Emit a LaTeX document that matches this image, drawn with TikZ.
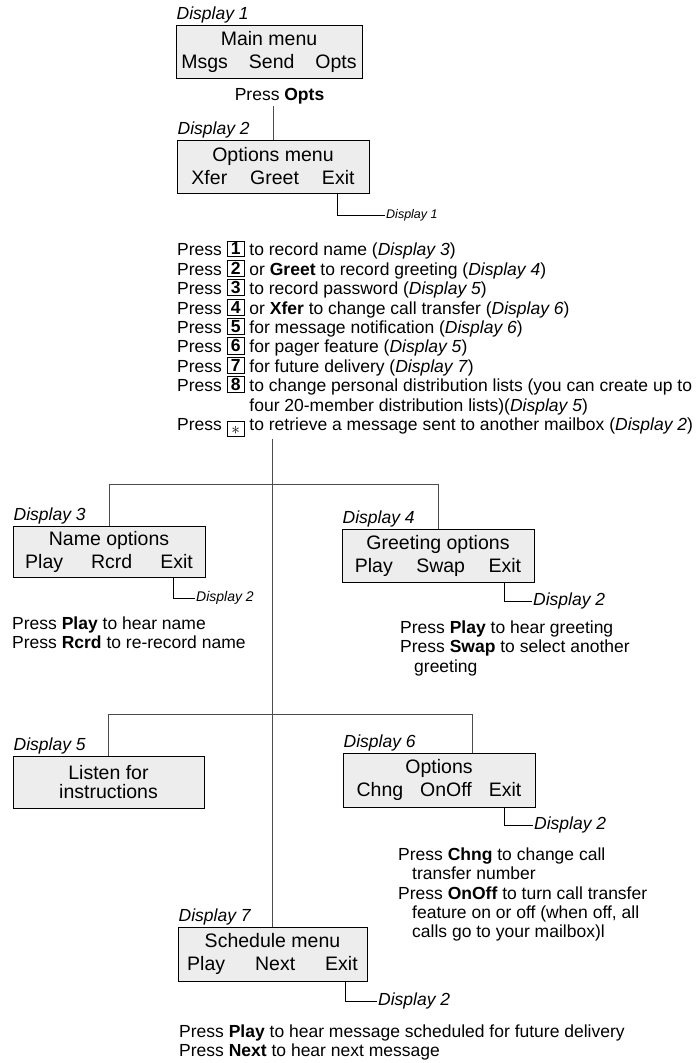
\documentclass[tikz,border=0pt]{standalone}
\usepackage{fontspec}
\setmainfont{Liberation Sans}
\usetikzlibrary{positioning}

\newcommand\boxfont{\fontsize{19.5}{23}\selectfont}
\newcommand\notefont{\fontsize{17.5}{19.4}\selectfont}
\newcommand\keycap[1]{\raisebox{1pt}{\setlength\fboxsep{1.5pt}\setlength\fboxrule{0.9pt}\fbox{\makebox[13pt]{\textbf{#1}}}}}
\newcommand\starkey{\raisebox{-3.5pt}{\setlength\fboxsep{1.5pt}\setlength\fboxrule{0.9pt}\fbox{\makebox[13pt]{\rule{0pt}{11pt}$\ast$}}}}

\tikzset{
  screen/.style={draw, line width=1pt, fill=black!7, minimum width=192pt,
    minimum height=53pt, inner sep=0pt, align=center, font=\boxfont},
  dlabel/.style={font=\notefont\itshape, inner sep=1pt},
  backlabel/.style={font=\notefont\itshape, inner sep=1pt, anchor=west},
  note/.style={font=\notefont, align=left, inner sep=0pt, anchor=north west},
  link/.style={draw=black!70, line width=1pt},
  exitlink/.style={draw=black, line width=0.8pt},
}

\begin{document}
\begin{tikzpicture}[x=1pt, y=-1pt]
  \useasboundingbox (0,0) rectangle (699,1063);
  % main menu and options menu
  \node[screen, minimum width=186pt] (d1) at (269,51.5)
    {Main menu\\Msgs\hspace{21pt}Send\hspace{21pt}Opts};
  \node[dlabel, above right=0pt and 0pt of d1.north west] (l1) {Display 1};
  \node[font=\notefont, inner sep=0pt] (popts) at (279.5,96) {Press \textbf{Opts}};
  \node[screen] (d2) at (273,166.5)
    {Options menu\\Xfer\hspace{23pt}Greet\hspace{23pt}Exit};
  \node[dlabel, above right=0pt and 0pt of d2.north west] (l2) {Display 2};
  \node[backlabel, font=\fontsize{12.5}{14}\selectfont\itshape] (b2) at (385,215) {Display 1};
  \draw[link] ([yshift=-2pt]popts.south -| d2.north) -- (d2.north);
  \draw[exitlink] ([xshift=64pt]d2.south) |- (b2.west);

  % keypad choices
  \node[note] (plist) at (177,240.3) {%
    Press \keycap{1} to record name (\textit{Display 3})\\
    Press \keycap{2} or \textbf{Greet} to record greeting (\textit{Display 4})\\
    Press \keycap{3} to record password (\textit{Display 5})\\
    Press \keycap{4} or \textbf{Xfer} to change call transfer (\textit{Display 6})\\
    Press \keycap{5} for message notification (\textit{Display 6})\\
    Press \keycap{6} for pager feature (\textit{Display 5})\\
    Press \keycap{7} for future delivery (\textit{Display 7})\\
    Press \keycap{8} to change personal distribution lists (you can create up to\\
    \hphantom{Press \keycap{8} }four 20-member distribution lists)(\textit{Display 5})\\
    Press \starkey{} to retrieve a message sent to another mailbox (\textit{Display 2})};
  \coordinate (j1) at (272,484);
  \coordinate (j2) at (272,714);

  % name and greeting
  \node[screen, minimum height=51pt] (d3) at (109,551.5)
    {Name options\\Play\hspace{28pt}Rcrd\hspace{28pt}Exit};
  \node[dlabel, above right=0pt and 0pt of d3.north west] (l3) {Display 3};
  \node[screen] (d4) at (438,555.5)
    {Greeting options\\Play\hspace{23.5pt}Swap\hspace{23.5pt}Exit};
  \node[dlabel, above right=0pt and 0pt of d4.north west] (l4) {Display 4};
  \node[backlabel, font=\fontsize{14}{16}\selectfont\itshape] (b3) at (195,598) {Display 2};
  \node[backlabel] (b4) at (532,601) {Display 2};
  \draw[exitlink] ([xshift=64pt]d3.south) |- (b3.west);
  \draw[exitlink] ([xshift=66pt]d4.south) |- (b4.west);
  \draw[link] (d3.north) -- (d3.north |- j1) -- (d4.north |- j1) -- (d4.north);
  \node[note] (n3) at (12,616.4)
    {Press \textbf{Play} to hear name\\Press \textbf{Rcrd} to re-record name};
  \node[note] (n4) at (400,620.4)
    {Press \textbf{Play} to hear greeting\\Press \textbf{Swap} to select another\\
     \hspace*{14pt}greeting};

  % password and transfer
  \node[screen, minimum width=191pt, minimum height=52pt] (d5) at (108.5,782)
    {Listen for\\[-4pt]instructions};
  \node[dlabel, above right=0pt and 0pt of d5.north west] (l5) {Display 5};
  \node[screen, minimum height=54pt] (d6) at (439,780)
    {Options\\Chng\hspace{17pt}OnOff\hspace{17pt}Exit};
  \node[dlabel, above right=0pt and 0pt of d6.north west] (l6) {Display 6};
  \node[backlabel] (b6) at (533,825) {Display 2};
  \draw[exitlink] ([xshift=65pt]d6.south) |- (b6.west);
  \draw[link] (d5.north) -- (d5.north |- j2) -- ([xshift=33pt]d6.north |- j2)
    -- ([xshift=33pt]d6.north);
  \node[note] (n6) at (398,847.4)
    {Press \textbf{Chng} to change call\\\hspace*{14pt}transfer number\\
     Press \textbf{OnOff} to turn call transfer\\
     \hspace*{14pt}feature on or off (when off, all\\
     \hspace*{14pt}calls go to your mailbox)l};

  % future delivery
  \node[screen, minimum width=189pt, minimum height=54pt] (d7) at (272.5,954)
    {Schedule menu\\Play\hspace{30pt}Next\hspace{30pt}Exit};
  \node[dlabel, above right=0pt and 0pt of d7.north west] (l7) {Display 7};
  \node[backlabel] (b7) at (377,1001) {Display 2};
  \draw[exitlink] ([xshift=73pt]d7.south) |- (b7.west);
  \draw[link] ([yshift=-2pt]plist.south -| d7.north) -- (d7.north);
  \node[note] (n7) at (179,1024.4)
    {Press \textbf{Play} to hear message scheduled for future delivery\\
     Press \textbf{Next} to hear next message};
\end{tikzpicture}
\end{document}
